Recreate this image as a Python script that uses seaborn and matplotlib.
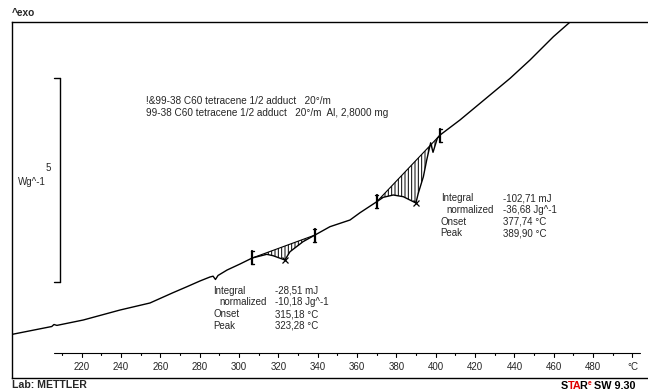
import numpy as np
import pandas as pd
import matplotlib
matplotlib.use("Agg")
import matplotlib.pyplot as plt
import seaborn as sns

# ---------------- data ----------------
temperature = [184.7, 204.8, 205.9, 207.4, 220.8, 239.5, 254.7, 266.4, 273.5, 280.1,
               285.2, 286.8, 288.0, 289.3, 293.9, 300.5, 306.7, 314.1, 317.3, 323.3,
               325.9, 332.5, 338.6, 346.2, 356.4, 361.5, 370.0, 373.3, 378.4, 383.5,
               389.9, 391.1, 393.7, 395.4, 397.4, 398.6, 400.8, 402.2, 412.3, 427.6,
               437.8, 447.9, 459.8, 468.3]
heat_flow = [-1.275, -1.083, -1.034, -1.056, -0.924, -0.679, -0.507, -0.255, -0.108, 0.032,
             0.130, 0.150, 0.069, 0.167, 0.301, 0.449, 0.596, 0.686, 0.652, 0.547,
             0.750, 0.995, 1.159, 1.363, 1.527, 1.706, 1.975, 2.083, 2.140, 2.098,
             1.944, 2.181, 2.588, 2.998, 3.420, 3.186, 3.530, 3.610, 3.978, 4.591,
             5.000, 5.448, 6.020, 6.380]

integration_limits = [(306.7, 338.6), (370.0, 402.2)]
peak_temps = [323.28, 389.90]

tick_values = list(range(210, 501, 10))
major_ticks = list(range(220, 501, 20))
major_labels = ["220", "240", "260", "280", "300", "320", "340", "360", "380",
                "400", "420", "440", "460", "480", "°C"]

annot_names = ["Integral", "normalized", "Onset", "Peak"]
annot1_values = ["-28,51 mJ", "-10,18 Jg^-1", "315,18 °C", "323,28 °C"]
annot2_values = ["-102,71 mJ", "-36,68 Jg^-1", "377,74 °C", "389,90 °C"]

legend_lines = ["!&99-38 C60 tetracene 1/2 adduct   20°/m",
                "99-38 C60 tetracene 1/2 adduct   20°/m  Al, 2,8000 mg"]
scale_value = 5

# ---------------- style ----------------
sns.set_style("white")
plt.rcParams["font.family"] = ["Liberation Sans", "DejaVu Sans"]
plt.rcParams["hatch.linewidth"] = 0.7

W, H = 648, 392
fig = plt.figure(figsize=(W / 100, H / 100), dpi=100)
top_px, bot_px, left_px, right_px = 22, 377.7, 12, 652
ax = fig.add_axes([left_px / W, 1 - bot_px / H, (right_px - left_px) / W, (bot_px - top_px) / H])

def fx(x):
    return x / W

def fy(y):
    return 1 - y / H

ax.set_xlim(184.57, 509.93)
ax.set_ylim(-2.338, 6.380)
ax.set_xticks([])
ax.set_yticks([])
for s in ["left", "top", "bottom"]:
    ax.spines[s].set_color("black")
    ax.spines[s].set_linewidth(1.0)
ax.spines["right"].set_visible(False)

df = pd.DataFrame({"T": temperature, "HF": heat_flow})
sns.lineplot(data=df, x="T", y="HF", ax=ax, color="black", linewidth=1.0,
             sort=False, estimator=None)
ax.set_xlabel("")
ax.set_ylabel("")

T = np.array(temperature)
HF = np.array(heat_flow)

px_per_unit = 40.8
px_per_deg = 1.967
for lo, hi in integration_limits:
    ylo, yhi = np.interp(lo, T, HF), np.interp(hi, T, HF)
    mask = (T >= lo) & (T <= hi)
    xs = T[mask]
    ys = HF[mask]
    base = np.interp(xs, [lo, hi], [ylo, yhi])
    ax.fill_between(xs, ys, base, facecolor="none", edgecolor="black",
                    hatch="|||||", linewidth=0)
    ax.plot([lo, hi], [ylo, yhi], color="black", lw=0.8)
    half = 6.5 / px_per_unit
    serif = 1.5 / px_per_deg
    for xv, yv in ((lo, ylo), (hi, yhi)):
        ax.plot([xv, xv], [yv - half, yv + half], color="black", lw=1.6)
        ax.plot([xv - serif, xv + serif], [yv + half, yv + half], color="black", lw=1.0)
        ax.plot([xv - serif, xv + serif], [yv - half, yv - half], color="black", lw=1.0)

ax.plot(peak_temps, np.interp(peak_temps, T, HF), linestyle="none", marker="x",
        ms=5, mew=0.9, color="black")

# inner temperature axis
trans = ax.get_xaxis_transform()
axis_y = (bot_px - 352.7) / (bot_px - top_px)
major_end = (bot_px - 357.2) / (bot_px - top_px)
minor_end = (bot_px - 355.2) / (bot_px - top_px)
label_y = (bot_px - 367.0) / (bot_px - top_px)
ax.plot([205.9, 503.8], [axis_y, axis_y], transform=trans, color="black", lw=0.8)
for t in tick_values:
    end = major_end if t in major_ticks else minor_end
    ax.plot([t, t], [axis_y, end], transform=trans, color="black", lw=0.8)
for t, lab in zip(major_ticks, major_labels):
    ax.text(t, label_y, lab, transform=trans, ha="center", va="center", fontsize=7)

# scale bar
ax.plot([208.97, 208.97], [0, scale_value], color="black", lw=1.0)
ax.plot([206.07, 208.97], [0, 0], color="black", lw=1.0)
ax.plot([206.07, 208.97], [scale_value, scale_value], color="black", lw=1.0)
fig.text(fx(48.5), fy(168.3), str(scale_value), ha="center", va="center", fontsize=7)
fig.text(fx(32), fy(182.3), "Wg^-1", ha="center", va="center", fontsize=7)

# legend lines
for i, line in enumerate(legend_lines):
    fig.text(fx(146), fy(101.5 + 11.5 * i), line, ha="left", va="center", fontsize=7.2)

# annotations
def annot(x_lab, x_val, y0, values):
    for i, (name, val) in enumerate(zip(annot_names, values)):
        y = y0 + 11.7 * i
        xl = x_lab + (6 if name == "normalized" else 0)
        fig.text(fx(xl), fy(y), name, ha="left", va="center", fontsize=7)
        fig.text(fx(x_val), fy(y), val, ha="left", va="center", fontsize=7)

annot(213.3, 275.0, 290.7, annot1_values)
annot(440.7, 503.3, 198.3, annot2_values)

# header / footer
fig.text(fx(12), fy(13), "^exo", ha="left", va="center", fontsize=7.3, fontweight="bold")
fig.text(fx(12), fy(385.5), "Lab: METTLER", ha="left", va="center", fontsize=7.6,
         fontweight="bold")

renderer = fig.canvas.get_renderer()
foot = dict(fontsize=7.8, fontweight="bold", va="baseline", ha="left")

def text_width(s, **kw):
    tt = fig.text(0, 0, s, **kw)
    w = tt.get_window_extent(renderer).width
    tt.remove()
    return w

x0, base_y = 561.0, 389.0
red = "#e00000"
fig.text(fx(x0), fy(base_y), "S", color="black", **foot)
fig.text(fx(x0 + text_width("S", **foot)), fy(base_y), "TA", color=red, **foot)
x_r = x0 + text_width("STA", **foot) - 2.5
fig.text(fx(x_r), fy(base_y), "R", color="black", **foot)
x_star = x_r + text_width("R", **foot)
fig.text(fx(x_star + 0.5), fy(base_y - 4), "e", color=red, fontsize=4.8,
         fontweight="bold", va="baseline", ha="left")
fig.text(fx(x_star + 4.0), fy(base_y), " SW 9.30", color="black", **foot)

fig.savefig("out.png", dpi=100)
